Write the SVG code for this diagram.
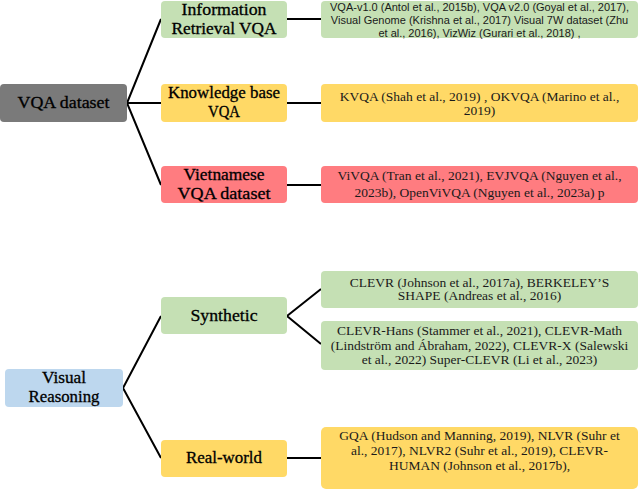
<svg xmlns="http://www.w3.org/2000/svg" width="640" height="490" viewBox="0 0 640 490">
<style>
.box{stroke:none}
.g{fill:#c5e0b4}.y{fill:#ffd966}.r{fill:#ff7c80}.b{fill:#bdd7ee}.k{fill:#7a7a7a}
.lbl{font-family:"Liberation Serif",serif;font-size:16.5px;fill:#000;stroke:#000;stroke-width:0.3;text-anchor:middle}
.ser{font-family:"Liberation Serif",serif;font-size:13.5px;fill:#1a1a1a;text-anchor:middle}
.sans{font-family:"Liberation Sans",sans-serif;font-size:11px;fill:#1a1a1a;text-anchor:middle}
.con{stroke:#000;stroke-width:2;fill:none}
</style>
<g id="connectors">
<polyline class="con" points="161,19 127,103 161,185"/>
<line class="con" x1="127" y1="103" x2="161" y2="103"/>
<line class="con" x1="287" y1="19" x2="321" y2="19"/>
<line class="con" x1="287" y1="103" x2="321" y2="103"/>
<line class="con" x1="287" y1="185" x2="321" y2="185"/>
<polyline class="con" points="161,316 123,388 161,458"/>
<polyline class="con" points="321,289 287,316 321,344"/>
<line class="con" x1="287" y1="458" x2="321" y2="458"/>
</g>
<g id="vqa-dataset"><rect class="box k" x="0" y="84" width="127" height="38" rx="4"/><text class="lbl" x="63.5" y="107.5" textLength="92" lengthAdjust="spacingAndGlyphs">VQA dataset</text></g>
<g id="ir-vqa"><rect class="box g" x="161" y="1" width="126" height="37" rx="4"/><text class="lbl" x="224" y="14.5" textLength="85" lengthAdjust="spacingAndGlyphs">Information</text><text class="lbl" x="224" y="33.5" textLength="105" lengthAdjust="spacingAndGlyphs">Retrieval VQA</text></g>
<g id="kb-vqa"><rect class="box y" x="161" y="84" width="126" height="38" rx="4"/><text class="lbl" x="224" y="98" textLength="112" lengthAdjust="spacingAndGlyphs">Knowledge base</text><text class="lbl" x="224" y="117" textLength="32" lengthAdjust="spacingAndGlyphs">VQA</text></g>
<g id="viet-vqa"><rect class="box r" x="161" y="166" width="126" height="37" rx="4"/><text class="lbl" x="224" y="179.5" textLength="81" lengthAdjust="spacingAndGlyphs">Vietnamese</text><text class="lbl" x="224" y="198.5" textLength="93" lengthAdjust="spacingAndGlyphs">VQA dataset</text></g>
<g id="ir-list"><rect class="box g" x="321" y="1" width="317" height="37" rx="4"/><text class="sans" x="479.5" y="10.5">VQA-v1.0 (Antol et al., 2015b), VQA v2.0 (Goyal et al., 2017),</text><text class="sans" x="479.5" y="24.3">Visual Genome (Krishna et al., 2017) Visual 7W dataset (Zhu</text><text class="sans" x="479.5" y="37">et al., 2016), VizWiz (Gurari et al., 2018) ,</text></g>
<g id="kb-list"><rect class="box y" x="321" y="84" width="317" height="38" rx="4"/><text class="ser" x="479.5" y="101">KVQA (Shah et al., 2019) , OKVQA (Marino et al.,</text><text class="ser" x="479.5" y="114.5">2019)</text></g>
<g id="viet-list"><rect class="box r" x="321" y="166" width="317" height="37" rx="4"/><text class="ser" x="479.5" y="180">ViVQA (Tran et al., 2021), EVJVQA (Nguyen et al.,</text><text class="ser" x="479.5" y="196.5">2023b), OpenViVQA (Nguyen et al., 2023a) p</text></g>
<g id="visual-reasoning"><rect class="box b" x="5" y="369" width="118" height="38" rx="4"/><text class="lbl" x="64" y="382.5" textLength="44" lengthAdjust="spacingAndGlyphs">Visual</text><text class="lbl" x="64" y="401.5" textLength="71" lengthAdjust="spacingAndGlyphs">Reasoning</text></g>
<g id="synthetic"><rect class="box g" x="161" y="297" width="126" height="37" rx="4"/><text class="lbl" x="224" y="320.5" textLength="67" lengthAdjust="spacingAndGlyphs">Synthetic</text></g>
<g id="real-world"><rect class="box y" x="161" y="440" width="126" height="37" rx="4"/><text class="lbl" x="224" y="463" textLength="76" lengthAdjust="spacingAndGlyphs">Real-world</text></g>
<g id="clevr-list"><rect class="box g" x="321" y="271" width="317" height="37" rx="4"/><text class="ser" x="479.5" y="286.5">CLEVR (Johnson et al., 2017a), BERKELEY’S</text><text class="ser" x="479.5" y="300">SHAPE (Andreas et al., 2016)</text></g>
<g id="clevr-hans-list"><rect class="box g" x="321" y="321" width="317" height="49" rx="4"/><text class="ser" x="479.5" y="334.5">CLEVR-Hans (Stammer et al., 2021), CLEVR-Math</text><text class="ser" x="479.5" y="349.5">(Lindström and Ábraham, 2022), CLEVR-X (Salewski</text><text class="ser" x="479.5" y="364">et al., 2022) Super-CLEVR (Li et al., 2023)</text></g>
<g id="gqa-list"><rect class="box y" x="321" y="427" width="317" height="62" rx="5"/><text class="ser" x="479.5" y="439.5">GQA (Hudson and Manning, 2019), NLVR (Suhr et</text><text class="ser" x="479.5" y="454.5">al., 2017), NLVR2 (Suhr et al., 2019),   CLEVR-</text><text class="ser" x="479.5" y="469.5">HUMAN (Johnson et al., 2017b),</text></g>
</svg>
